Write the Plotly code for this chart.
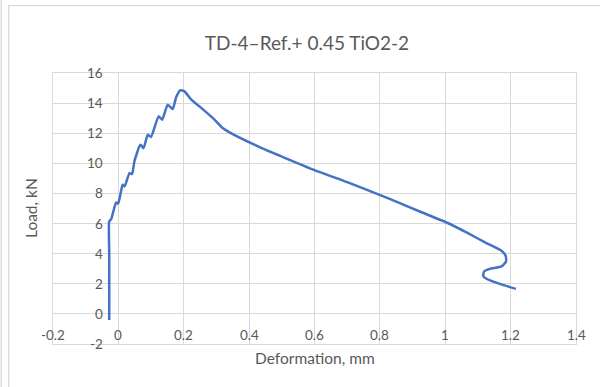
import plotly.graph_objects as go

# Load–deformation record
deformation_mm = [
    -0.028, -0.028, -0.028, -0.028, -0.022, -0.007, -0.001, 0.008, 0.013, 0.019,
    0.034, 0.042, 0.049, 0.064, 0.068, 0.077, 0.090, 0.100, 0.123, 0.134,
    0.151, 0.166, 0.177, 0.189, 0.202, 0.223, 0.248, 0.294, 0.319, 0.340,
    0.432, 0.50, 0.60, 0.70, 0.799, 0.861, 0.922, 1.004, 1.065, 1.126,
    1.172, 1.185, 1.186, 1.172, 1.136, 1.119, 1.116, 1.126, 1.167, 1.216,
]
load_kn = [
    -0.40, 2.0, 4.0, 6.14, 6.29, 7.40, 7.31, 8.13, 8.58, 8.47,
    9.35, 9.29, 10.13, 11.12, 11.24, 11.00, 11.90, 11.75, 13.12, 12.90,
    13.90, 13.60, 14.40, 14.85, 14.78, 14.23, 13.78, 12.90, 12.35, 12.06,
    11.08, 10.45, 9.55, 8.75, 7.91, 7.36, 6.80, 6.07, 5.41, 4.70,
    4.19, 3.85, 3.48, 3.15, 2.99, 2.81, 2.53, 2.33, 1.99, 1.66,
]

x_ticks = [-0.2, 0, 0.2, 0.4, 0.6, 0.8, 1, 1.2, 1.4]
y_ticks = [-2, 0, 2, 4, 6, 8, 10, 12, 14, 16]

title_text = "TD-4–Ref.+ 0.45 TiO2-2"
x_title = "Deformation, mm"
y_title = "Load, kN"

FONT = "Lato"
TEXT = "#595959"
GRID = "#d9d9d9"

fig = go.Figure()
fig.add_trace(go.Scatter(
    x=deformation_mm, y=load_kn, mode="lines",
    line=dict(color="#4472C4", width=2.5, shape="spline", smoothing=0.5),
    hoverinfo="skip", showlegend=False,
))

def fmt(v):
    return f"{v:g}"

annotations = []
# x tick labels sit just under the y = 0 axis
for v in x_ticks:
    annotations.append(dict(
        x=v, y=0, xref="x", yref="y", text=fmt(v), showarrow=False,
        yanchor="middle", xanchor="center", yshift=-21,
        font=dict(family=FONT, size=13.5, color=TEXT),
    ))
# y tick labels sit left of the x = 0 axis
for v in y_ticks:
    annotations.append(dict(
        x=0, y=v, xref="x", yref="y", text=fmt(v), showarrow=False,
        yanchor="middle", xanchor="right", xshift=-13,
        font=dict(family=FONT, size=13.5, color=TEXT),
    ))

annotations.append(dict(
    x=0.5, y=-0.05, xref="paper", yref="paper", text=x_title, showarrow=False,
    xanchor="center", yanchor="middle",
    font=dict(family=FONT, size=15.5, color=TEXT),
))
annotations.append(dict(
    x=-0.043, y=0.5, xref="paper", yref="paper", text=y_title, showarrow=False,
    xanchor="center", yanchor="middle", textangle=-90,
    font=dict(family=FONT, size=15.5, color=TEXT),
))

shapes = [
    # chart area frame
    dict(type="rect", xref="paper", yref="paper",
         x0=-0.0848, x1=1.06, y0=-0.2, y1=1.2486,
         line=dict(color=GRID, width=1.3), layer="below"),
    dict(type="line", xref="paper", yref="paper",
         x0=-0.099, x1=-0.099, y0=-0.2, y1=1.3,
         line=dict(color=GRID, width=1.3), layer="below"),
]

fig.update_layout(
    width=600, height=387,
    margin=dict(l=53, r=24, t=73, b=43, autoexpand=False),
    paper_bgcolor="white", plot_bgcolor="white",
    title=dict(
        text=title_text, xref="container", yref="container",
        x=307 / 600, y=1 - 43 / 387, xanchor="center", yanchor="middle",
        font=dict(family=FONT, size=19, color=TEXT),
    ),
    xaxis=dict(
        range=[-0.2, 1.4], tickvals=x_ticks, showticklabels=False,
        showgrid=True, gridcolor=GRID, gridwidth=1,
        zeroline=True, zerolinecolor=GRID, zerolinewidth=1.3,
        showline=True, mirror=True, linecolor=GRID, linewidth=1,
        ticks="",
    ),
    yaxis=dict(
        range=[-2, 16], tickvals=y_ticks, showticklabels=False,
        showgrid=True, gridcolor=GRID, gridwidth=1,
        zeroline=True, zerolinecolor=GRID, zerolinewidth=1.3,
        showline=True, mirror=True, linecolor=GRID, linewidth=1,
        ticks="",
    ),
    annotations=annotations,
    shapes=shapes,
)

fig.write_html("out.html")
